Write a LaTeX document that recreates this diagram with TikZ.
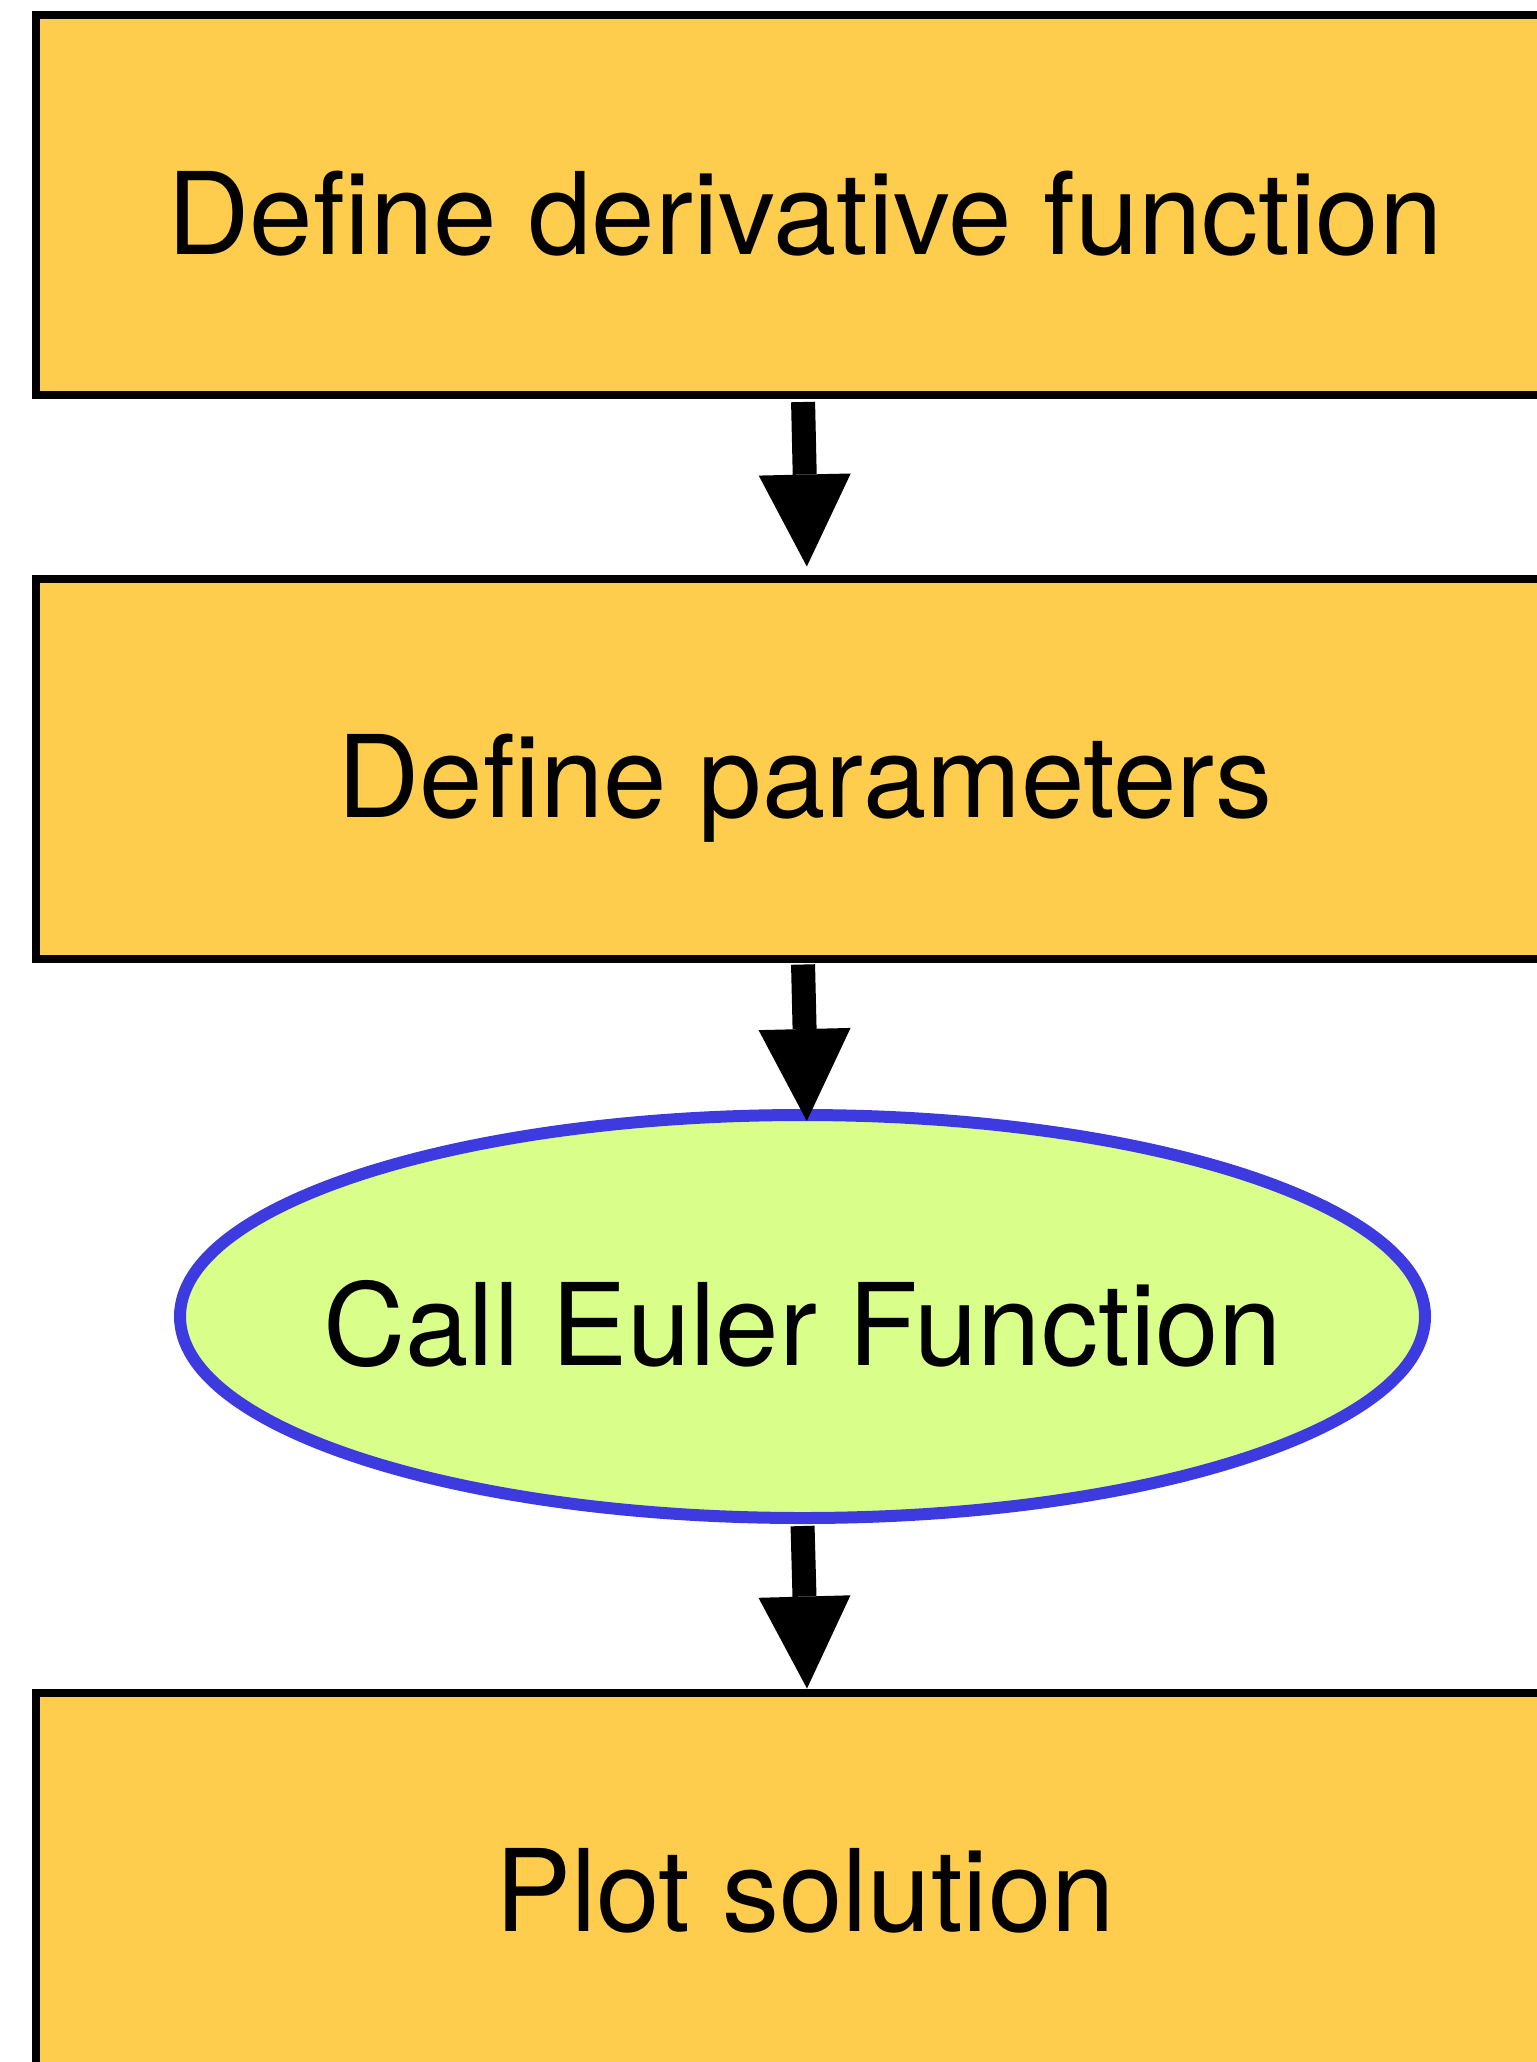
\documentclass[tikz,border=0pt]{standalone}
\usepackage{fontspec}
\setmainfont{TeX Gyre Heros}
\usetikzlibrary{arrows.meta,shapes.geometric}
\definecolor{boxfill}{RGB}{255,205,77}
\definecolor{callfill}{RGB}{217,255,138}
\definecolor{callline}{RGB}{61,59,224}

\begin{document}
\begin{tikzpicture}[x=0.5pt,y=-0.5pt,
  labelfont/.style={font=\fontsize{57}{68}\selectfont, text height=49pt, text depth=0pt, inner sep=0pt},
  stepbox/.style={rectangle, draw=black, line width=4pt, fill=boxfill,
    minimum width=769pt, minimum height=190pt, labelfont},
  callnode/.style={ellipse, draw=callline, line width=6pt, fill=callfill,
    minimum width=622.5pt, minimum height=201.5pt, labelfont, inner xsep=-30pt},
  flow/.style={line width=12pt, draw=black,
    -{Triangle[length=46pt,width=46pt,line width=0pt]}}]
\useasboundingbox (0,0) rectangle (1537,2062);

% process steps
\node[stepbox]  (deriv)  at (805,205)    {Define derivative function};
\node[stepbox]  (params) at (805,768.5)  {Define parameters};
\node[callnode] (euler)  at (802.5,1316.5) {Call Euler Function};
\node[stepbox]  (plot)   at (805,1882.5) {Plot solution};

% connectors
\draw[flow, shorten <=1.5pt, shorten >=4pt]
  ([xshift=-1pt]deriv.south) -- ([xshift=1pt]params.north);
\draw[flow, shorten <=1pt, shorten >=-6pt]
  ([xshift=-1pt]params.south) -- ([xshift=2pt]euler.north);
\draw[flow, shorten <=1pt, shorten >=0pt]
  (euler.south) -- ([xshift=1pt]plot.north);
\end{tikzpicture}
\end{document}
